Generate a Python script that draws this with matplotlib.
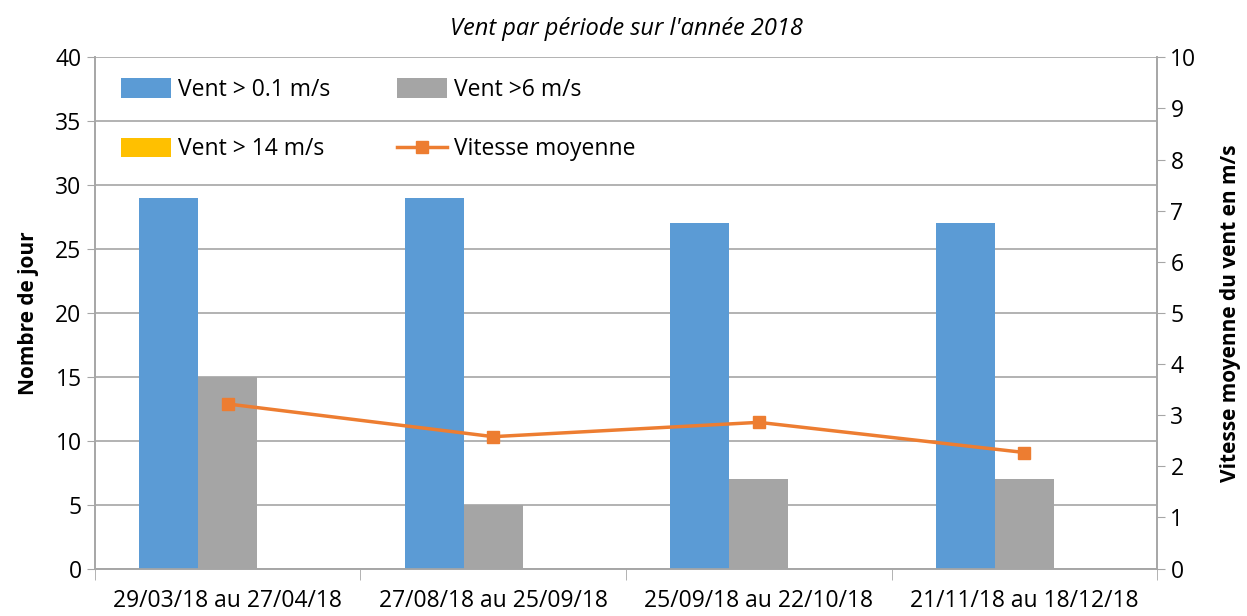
import numpy as np
import matplotlib
matplotlib.use("Agg")
import matplotlib.pyplot as plt

# donnees
periodes = ["29/03/18 au 27/04/18", "27/08/18 au 25/09/18",
            "25/09/18 au 22/10/18", "21/11/18 au 18/12/18"]
vent_01 = [29, 29, 27, 27]
vent_6 = [15, 5, 7, 7]
vent_14 = [0, 0, 0, 0]
vitesse_moy = [3.22, 2.58, 2.86, 2.27]

plt.rcParams['font.family'] = ['Open Sans', 'DejaVu Sans']

fig = plt.figure(figsize=(12.47, 6.16), dpi=100)
ax = fig.add_axes([0.076, 0.077, 0.852, 0.83])
ax2 = ax.twinx()

x = np.arange(len(periodes))
w = 0.222
ax.bar(x - w, vent_01, w, color='#5b9bd5', label='Vent > 0.1 m/s', zorder=3)
ax.bar(x, vent_6, w, color='#a5a5a5', label='Vent >6 m/s', zorder=3)
ax.bar(x + w, vent_14, w, color='#ffc000', label='Vent > 14 m/s', zorder=3)
ax2.plot(x, vitesse_moy, color='#ed7d31', lw=2.5, marker='s', ms=8,
         label='Vitesse moyenne')

ax.set_xlim(-0.5, 3.5)
ax.set_ylim(0, 40)
ax.set_yticks(range(0, 41, 5))
ax2.set_ylim(0, 10)
ax2.set_yticks(range(0, 11))

ax.yaxis.grid(True, color='#a6a6a6', lw=1.2, zorder=0)
ax.set_axisbelow(True)

fs = 16.5
ax.set_xticks(x)
ax.set_xticklabels(periodes)
ax.set_xticks(np.arange(-0.5, 4.0, 1.0), minor=True)
ax.tick_params(axis='x', which='major', length=0, labelsize=fs, pad=15)
ax.tick_params(axis='x', which='minor', length=8, color='#a6a6a6')
ax.tick_params(axis='y', labelsize=fs, length=6, color='#a6a6a6')
ax2.tick_params(axis='y', labelsize=fs, length=6, color='#a6a6a6')

for a in (ax, ax2):
    a.spines['top'].set_visible(False)
    for s in ('left', 'right', 'bottom'):
        a.spines[s].set_color('#a6a6a6')
        a.spines[s].set_linewidth(1.2)

ax.set_ylabel('Nombre de jour', fontsize=15, fontweight='bold', labelpad=12)
ax2.set_ylabel('Vitesse moyenne du vent en m/s', fontsize=15,
               fontweight='bold', labelpad=17)
ax.set_title("Vent par période sur l'année 2018", fontsize=17,
             style='italic', pad=16)

h1, l1 = ax.get_legend_handles_labels()
h2, l2 = ax2.get_legend_handles_labels()
hs = h1 + h2
ls = l1 + l2
order = [0, 2, 1, 3]
ax.legend([hs[i] for i in order], [ls[i] for i in order], ncol=2,
          loc='upper left', frameon=False, fontsize=fs, handlelength=2.2,
          handleheight=0.9, handletextpad=0.3, columnspacing=2.9,
          labelspacing=1.55, borderaxespad=0.5, bbox_to_anchor=(0.005, 1.0))

fig.savefig('out.png', dpi=100)
